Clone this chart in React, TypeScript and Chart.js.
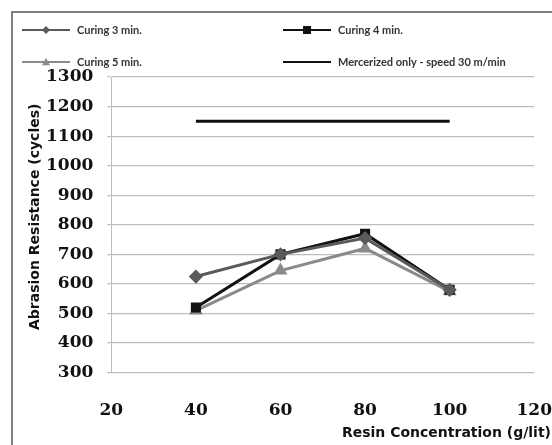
import React, { useEffect, useRef } from "react";
import { Chart, registerables } from "chart.js";

Chart.register(...registerables);

const resinConc = [40, 60, 80, 100];
const curing3 = [625, 700, 755, 580];
const curing4 = [520, 700, 770, 580];
const curing5 = [510, 645, 720, 575];
const mercerized = [1150, 1150, 1150, 1150];
const seriesLabels = [
  "Curing 3 min.",
  "Curing 4 min.",
  "Curing 5 min.",
  "Mercerized only - speed 30 m/min",
];
const yTitle = "Abrasion Resistance (cycles)";
const xTitle = "Resin Concentration (g/lit)";

const toPts = (vals: number[]) => vals.map((v, i) => ({ x: resinConc[i], y: v }));

const framePlugin = {
  id: "frame",
  beforeDraw(chart: any) {
    const ctx = chart.ctx;
    ctx.save();
    ctx.fillStyle = "#ffffff";
    ctx.fillRect(0, 0, chart.width, chart.height);
    ctx.strokeStyle = "#555";
    ctx.lineWidth = 1.5;
    ctx.strokeRect(12, 12, 700, 700);
    ctx.restore();
  },
  afterDraw(chart: any) {
    const ctx = chart.ctx;
    const area = chart.chartArea;
    ctx.save();
    ctx.fillStyle = "#111";
    ctx.font = "bold 14px 'DejaVu Sans'";
    ctx.textAlign = "right";
    ctx.textBaseline = "middle";
    ctx.fillText(xTitle, 551, 433);
    ctx.translate(35, (area.top + area.bottom) / 2 - 8);
    ctx.rotate(-Math.PI / 2);
    ctx.textAlign = "center";
    ctx.fillText(yTitle, 0, 0);
    ctx.restore();
  },
};

function drawPoint(ctx: CanvasRenderingContext2D, style: string, x: number, y: number, r: number) {
  ctx.beginPath();
  if (style === "rect") {
    ctx.rect(x - r, y - r, 2 * r, 2 * r);
  } else if (style === "rectRot") {
    ctx.moveTo(x, y - r);
    ctx.lineTo(x + r, y);
    ctx.lineTo(x, y + r);
    ctx.lineTo(x - r, y);
    ctx.closePath();
  } else if (style === "triangle") {
    ctx.moveTo(x, y - r);
    ctx.lineTo(x + r, y + r * 0.8);
    ctx.lineTo(x - r, y + r * 0.8);
    ctx.closePath();
  }
  ctx.fill();
}

const legendPlugin = {
  id: "customLegend",
  afterDraw(chart: any) {
    const ctx = chart.ctx;
    const pos = [
      { x: 22, y: 30 },
      { x: 283, y: 30 },
      { x: 22, y: 62 },
      { x: 283, y: 62 },
    ];
    ctx.save();
    chart.data.datasets.forEach((ds: any, i: number) => {
      const p = pos[i];
      ctx.strokeStyle = ds.borderColor;
      ctx.lineWidth = 2;
      ctx.beginPath();
      ctx.moveTo(p.x, p.y);
      ctx.lineTo(p.x + 48, p.y);
      ctx.stroke();
      if (ds.pointStyle && ds.pointRadius > 0) {
        ctx.fillStyle = ds.pointBackgroundColor;
        drawPoint(ctx, ds.pointStyle, p.x + 24, p.y, 4);
      }
      ctx.fillStyle = "#333";
      ctx.font = "bold 11px Lato";
      ctx.textBaseline = "middle";
      ctx.textAlign = "left";
      ctx.fillText(ds.label, p.x + 55, p.y);
    });
    ctx.restore();
  },
};

export default function App() {
  const ref = useRef<HTMLCanvasElement | null>(null);
  useEffect(() => {
    if (!ref.current) return;
    const chart = new Chart(ref.current, {
      type: "line",
      data: {
        datasets: [
          {
            label: seriesLabels[0],
            data: toPts(curing3),
            borderColor: "#5a5a5a",
            backgroundColor: "#5a5a5a",
            pointBackgroundColor: "#5a5a5a",
            pointBorderColor: "#5a5a5a",
            pointStyle: "rectRot",
            pointRadius: 5,
            borderWidth: 3,
          },
          {
            label: seriesLabels[1],
            data: toPts(curing4),
            borderColor: "#111111",
            backgroundColor: "#111111",
            pointBackgroundColor: "#111111",
            pointBorderColor: "#111111",
            pointStyle: "rect",
            pointRadius: 5,
            borderWidth: 3,
          },
          {
            label: seriesLabels[2],
            data: toPts(curing5),
            borderColor: "#8a8a8a",
            backgroundColor: "#8a8a8a",
            pointBackgroundColor: "#8a8a8a",
            pointBorderColor: "#8a8a8a",
            pointStyle: "triangle",
            pointRadius: 5,
            borderWidth: 3,
          },
          {
            label: seriesLabels[3],
            data: toPts(mercerized),
            borderColor: "#111111",
            backgroundColor: "#111111",
            pointRadius: 0,
            borderWidth: 3,
          },
        ] as any,
      },
      options: {
        responsive: false,
        animation: false,
        devicePixelRatio: 1,
        layout: { padding: { top: 77, left: 32, right: 0, bottom: 24 } },
        plugins: {
          legend: { display: false },
          tooltip: { enabled: false },
        },
        scales: {
          x: {
            type: "linear",
            min: 20,
            max: 120,
            ticks: {
              stepSize: 20,
              padding: 0,
              color: "#111",
              callback: (v: any) => String(v),
              font: { family: "DejaVu Serif", weight: "bold", size: 17 },
            },
            grid: {
              display: true,
              drawOnChartArea: false,
              drawTicks: true,
              tickLength: 28,
              color: "rgba(0,0,0,0)",
            },
            border: { display: false },
            title: { display: false },
          },
          y: {
            min: 300,
            max: 1300,
            ticks: {
              stepSize: 100,
              padding: 14,
              color: "#111",
              callback: (v: any) => String(v),
              font: { family: "DejaVu Serif", weight: "bold", size: 17 },
            },
            grid: { color: "#bdbdbd", lineWidth: 1.2, tickLength: 4 },
            border: { display: true, color: "#bdbdbd" },
            title: { display: false },
          },
        },
      } as any,
      plugins: [framePlugin, legendPlugin],
    });
    return () => chart.destroy();
  }, []);
  return (
    <div style={{ position: "fixed", left: 0, top: 0, width: 552, height: 445, background: "#fff" }}>
      <canvas ref={ref} width={552} height={445} style={{ display: "block" }} />
    </div>
  );
}
